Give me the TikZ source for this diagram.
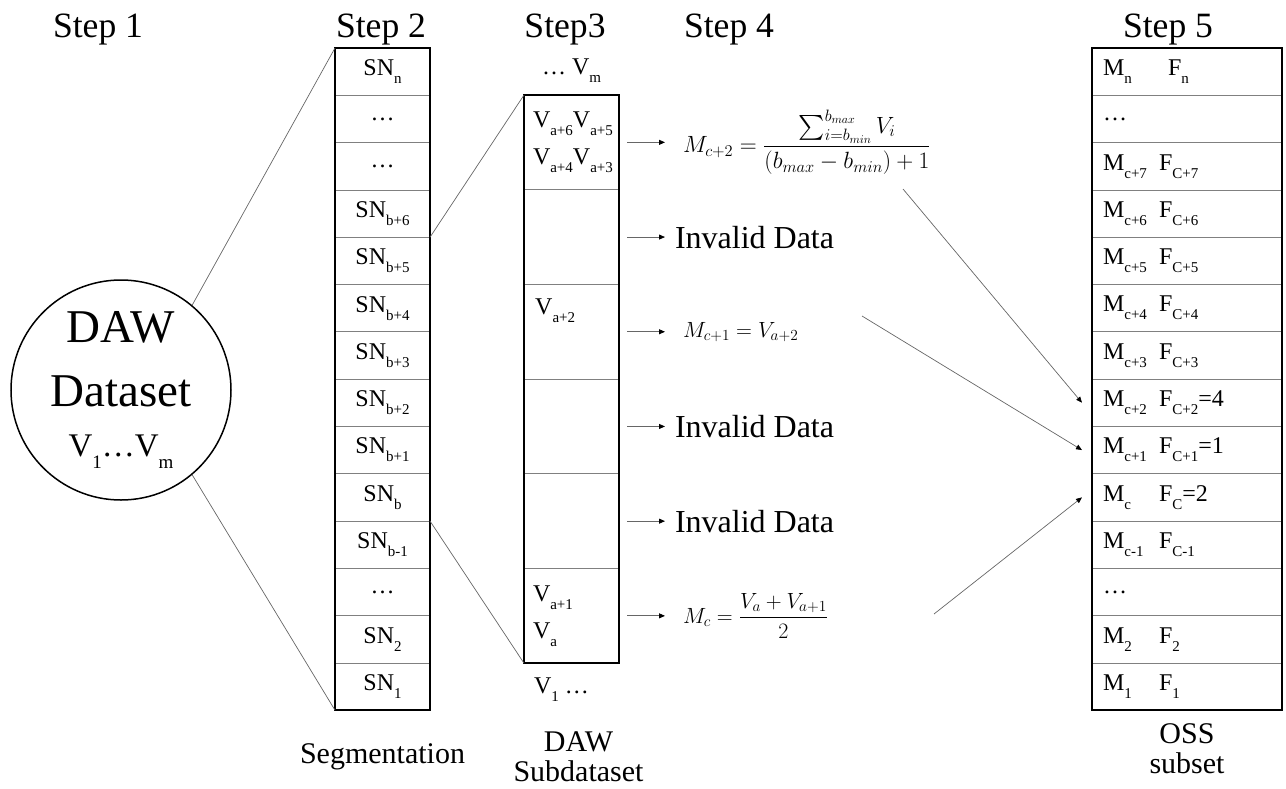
\RequirePackage{fix-cm}
\documentclass[tikz,border=0pt]{standalone}
\usepackage{amsmath}
\usepackage{fontspec}
\setmainfont{Liberation Serif}
\usetikzlibrary{arrows.meta,positioning}

% lowered text subscript, as in the table cells
\newcommand{\dn}[1]{\raisebox{-8pt}{\fontsize{15}{15}\selectfont #1}}
% one row of the OSS subset: mean and frequency
\newcommand{\mf}[3][56pt]{\makebox[#1][l]{M\dn{#2}}F\dn{#3}}

\tikzset{
  >={Triangle[length=6pt,width=5pt,color=black]},
  cell/.style={draw=black!50,line width=0.8pt,inner sep=0pt,outer sep=0pt,font=\fontsize{24}{37}\selectfont},
  segcell/.style={cell,minimum width=95pt,minimum height=47.3pt},
  subcell/.style={cell,minimum height=94.7pt,text width=77pt,inner xsep=9pt,align=left},
  osscell/.style={cell,minimum height=47.3pt,text width=168pt,inner xsep=11pt,align=left},
  frame/.style={draw=black,line width=2.2pt},
  dawcirc/.style={circle,draw=black,line width=1.5pt,minimum size=220pt,inner sep=0pt,align=center,
    font=\fontsize{47}{64}\selectfont},
  steplab/.style={font=\fontsize{35.6}{40}\selectfont,inner sep=0pt},
  caption/.style={font=\fontsize{30}{30}\selectfont,align=center,inner sep=0pt},
  vlab/.style={font=\fontsize{24}{30}\selectfont,inner sep=0pt},
  eqn/.style={font=\fontsize{22}{26}\selectfont,inner sep=0pt,outer xsep=18pt},
  inval/.style={font=\fontsize{32}{38}\selectfont,inner sep=0pt,outer xsep=10pt},
  zoomline/.style={draw=black!60,line width=0.7pt},
  sarr/.style={->,draw=black!60,line width=0.8pt,shorten <=8pt},
  farr/.style={->,draw=black!60,line width=0.7pt},
}

\begin{document}
\begin{tikzpicture}[x=1pt,y=1pt]
\useasboundingbox (0,0) rectangle (1286,-788);

% step titles
\node[steplab,anchor=base] (s1) at (98,-37) {Step 1};
\node[steplab,anchor=base] (s2) at (381,-37) {Step 2};
\node[steplab,anchor=base] (s3) at (565,-37) {Step3};
\node[steplab,anchor=base] (s4) at (729,-37) {Step 4};
\node[steplab,anchor=base] (s5) at (1168,-37) {Step 5};

% step 1: the whole data set
\node[dawcirc] (daw) at (121,-390) {DAW\\Dataset\\[-14pt]
  \fontsize{33}{40}\selectfont V\raisebox{-12pt}{\fontsize{19}{19}\selectfont 1}\dots V\raisebox{-12pt}{\fontsize{19}{19}\selectfont m}};

% step 2: segments
\foreach \lab [count=\i] in {SN\dn{n},\dots,\dots,SN\dn{b+6},SN\dn{b+5},SN\dn{b+4},SN\dn{b+3},
    SN\dn{b+2},SN\dn{b+1},SN\dn{b},SN\dn{b-1},\dots,SN\dn{2},SN\dn{1}}
  \node[segcell] (seg\i) at (382.5,{-71.65-47.3*(\i-1)}) {\lab};
\draw[frame] (seg1.north west) rectangle (seg14.south east);
\node[caption,below=33pt of seg14] (segcap) {Segmentation};

\draw[zoomline] (daw.50) -- (seg1.north west);
\draw[zoomline] (daw.-50) -- (seg14.south west);

% step 3: sub data set of the segments b..b+6
\foreach \lab [count=\i] in {{V\dn{a+6}V\dn{a+5}\\V\dn{a+4}V\dn{a+3}},{},{},{},{},{V\dn{a+1}\\V\dn{a}}}
  \node[subcell] (sub\i) at (571.5,{-142.35-94.7*(\i-1)}) {\lab};
\draw[frame] (sub1.north west) rectangle (sub6.south east);
\node[vlab,below right=14pt and 11pt of sub3.north west] (va2) {V\dn{a+2}};
\node[vlab,above=12pt of sub1] (vtop) {\dots\ V\dn{m}};
\node[vlab,below=14pt of sub6,xshift=-10pt] (vbot) {V\dn{1} \dots};
\node[caption,below=68pt of sub6,xshift=7pt] (subcap) {DAW\\Subdataset};

\draw[zoomline] (seg4.south east) -- (sub1.north west);
\draw[zoomline] (seg10.south east) -- (sub6.south west);

% step 4: one mean per valid segment
\node[eqn,right=46pt of sub1,font=\fontsize{23.5}{28}\selectfont] (f1) {$\displaystyle M_{c+2}=\frac{\sum_{i=b_{min}}^{b_{max}}V_i}{(b_{max}-b_{min})+1}$};
\node[inval,right=46pt of sub2] (iv1) {Invalid Data};
\node[eqn,right=46pt of sub3] (f2) {$M_{c+1}=V_{a+2}$};
\node[inval,right=46pt of sub4] (iv2) {Invalid Data};
\node[inval,right=46pt of sub5] (iv3) {Invalid Data};
\node[eqn,right=46pt of sub6] (f3) {$\displaystyle M_c=\frac{V_a+V_{a+1}}{2}$};
\foreach \s/\t in {sub1/f1,sub2/iv1,sub3/f2,sub4/iv2,sub5/iv3,sub6/f3}
  \draw[sarr] (\s.east) -- (\s.east -| \t.west);

% step 5: OSS subset
\foreach \lab [count=\i] in {{\mf[65pt]{n}{n}},\dots,{\mf{c+7}{C+7}},{\mf{c+6}{C+6}},{\mf{c+5}{C+5}},
    {\mf{c+4}{C+4}},{\mf{c+3}{C+3}},{\mf{c+2}{C+2}=4},{\mf{c+1}{C+1}=1},{\mf{c}{C}=2},
    {\mf{c-1}{C-1}},\dots,{\mf{2}{2}},{\mf{1}{1}}}
  \node[osscell] (oss\i) at (1187,{-71.65-47.3*(\i-1)}) {\lab};
\draw[frame] (oss1.north west) rectangle (oss14.south east);
\node[caption,below=13pt of oss14] (osscap) {OSS\\subset};

\coordinate (fromf1) at (903,-189);
\coordinate (fromf2) at (862,-316);
\coordinate (fromf3) at (934,-614);
\draw[farr] (fromf1) -- ([xshift=-10pt]oss8.west);
\draw[farr] (fromf2) -- ([xshift=-10pt]oss9.west);
\draw[farr] (fromf3) -- ([xshift=-10pt]oss10.west);
\end{tikzpicture}
\end{document}
